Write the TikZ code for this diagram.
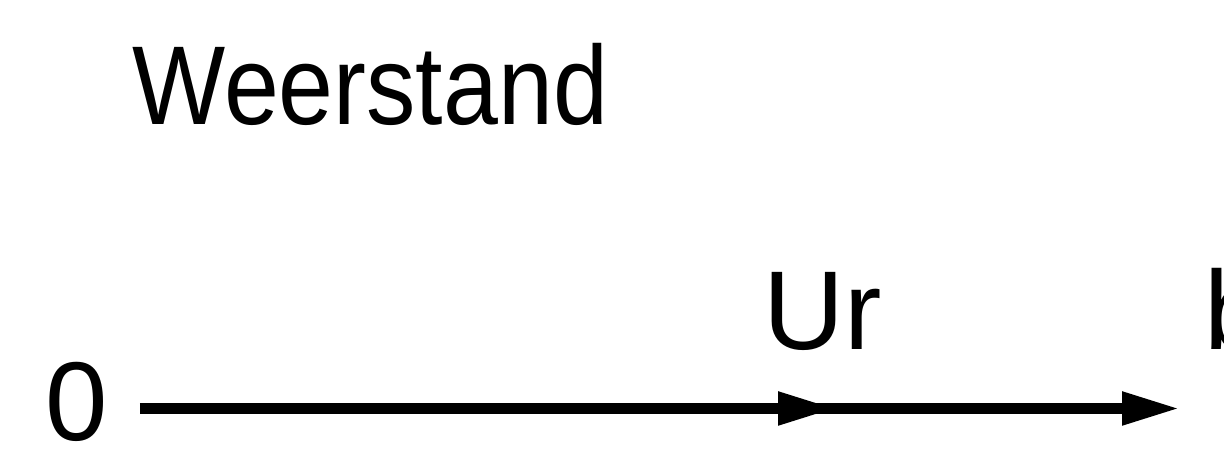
\documentclass[tikz,border=0pt]{standalone}
\usepackage{fontspec}
\setmainfont{Liberation Sans}
\usetikzlibrary{arrows.meta,positioning}

\begin{document}
\begin{tikzpicture}[
  lbl/.style={inner sep=0pt,anchor=base west,
              font=\fontsize{31.9pt}{36pt}\selectfont},
  axis/.style={line width=0.11cm,
               -{Triangle[length=0.58cm,width=0.31cm]}}
]
\useasboundingbox (0,0) rectangle (12.24,4.6);
\clip (0,0) rectangle (12.24,4.6);

% Labels
\node[lbl] (title) at (1.32,3.35) {\scalebox{0.88}[1]{Weerstand}};
\node[lbl] (zero) at (0.45,0.19) {0};
\node[lbl] (ur) at (7.63,1.10) {Ur};
\node[lbl] (cut) at (12.04,1.10) {b};

% Axis with mark at Ur
\coordinate (urpt) at (8.36,0.515);
\coordinate (tip) at (11.80,0.515);
\draw[axis,shorten <=0.31cm] (zero.east |- urpt) -- (urpt);
\draw[axis,shorten <=-0.58cm] (urpt) -- (tip);
\end{tikzpicture}
\end{document}
